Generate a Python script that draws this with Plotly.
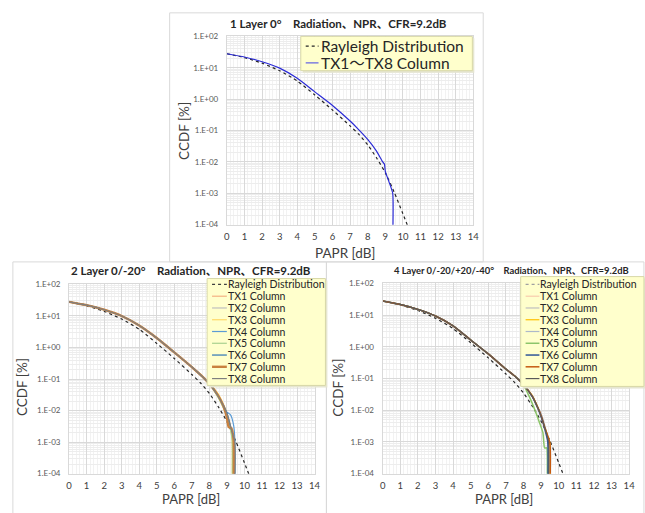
import plotly.graph_objects as go

W, H = 645, 513
FONT = "Lato, 'Noto Sans CJK JP', sans-serif"

# ---------------- data ----------------
papr_ticks = list(range(0, 15))
ccdf_tickvals = [1e-4, 1e-3, 1e-2, 1e-1, 1e0, 1e1, 1e2]
ccdf_ticktext = ["1.E-04", "1.E-03", "1.E-02", "1.E-01", "1.E+00", "1.E+01", "1.E+02"]

rayleigh_x = [0, 1, 2, 3, 4, 5, 6, 7, 7.5, 8, 8.5, 9, 9.5, 10, 10.4]
rayleigh_ccdf = [28, 21, 14, 8.0, 3.8, 1.35, 0.45, 0.14, 0.075, 0.035, 0.0135, 0.0045, 0.0011, 0.00022, 0.00006]

# panel 1: 1 layer, all columns identical
top_x = [0, 1, 2, 3, 4, 5, 6, 7, 7.5, 8, 8.5, 8.85, 8.95, 9.0, 9.2, 9.42, 9.42]
top_ccdf = [28, 22, 15.5, 9.7, 4.6, 1.7, 0.63, 0.2, 0.105, 0.052, 0.022, 0.0100, 0.0085, 0.005, 0.0024, 0.0010, 0.00003]

tx_names = ["TX1 Column", "TX2 Column", "TX3 Column", "TX4 Column",
            "TX5 Column", "TX6 Column", "TX7 Column", "TX8 Column"]

# panel 2: 2 layer
bl_head_x = [0, 1, 2, 3, 4, 5, 6, 7, 7.5, 8]
bl_head = [28, 22, 15.8, 10, 5.0, 2.0, 0.7, 0.24, 0.135, 0.071]
bl_tail_x = [
    [8.5, 8.8, 9.0, 9.2, 9.35, 9.35],
    [8.5, 8.8, 9.0, 9.2, 9.4, 9.4],
    [8.5, 8.8, 9.0, 9.2, 9.3, 9.3],
    [8.5, 8.8, 9.0, 9.2, 9.38, 9.45, 9.45],
    [8.5, 8.8, 9.0, 9.2, 9.3, 9.3],
    [8.5, 8.8, 9.0, 9.2, 9.42, 9.42],
    [8.5, 8.8, 9.0, 9.1, 9.25, 9.38, 9.38],
    [8.5, 8.8, 9.0, 9.2, 9.45, 9.45],
]
bl_tail = [
    [0.03, 0.0145, 0.0085, 0.0035, 0.0012, 0.00003],
    [0.029, 0.014, 0.008, 0.003, 0.0011, 0.00003],
    [0.034, 0.016, 0.0085, 0.003, 0.0013, 0.00003],
    [0.03, 0.015, 0.009, 0.0075, 0.0035, 0.0012, 0.00003],
    [0.026, 0.012, 0.0065, 0.0025, 0.0011, 0.00003],
    [0.029, 0.0145, 0.0082, 0.0033, 0.0011, 0.00003],
    [0.03, 0.014, 0.006, 0.003, 0.0028, 0.0012, 0.00003],
    [0.029, 0.0142, 0.008, 0.0032, 0.001, 0.00003],
]

# panel 3: 4 layer
br_head_x = [0, 1, 2, 3, 4, 5, 6, 7, 7.5, 8]
br_head = [28, 21.8, 15.2, 9.4, 4.6, 1.65, 0.6, 0.2, 0.12, 0.064]
br_tail_x = [
    [8.5, 8.8, 9.0, 9.2, 9.45, 9.45],
    [8.5, 8.8, 9.0, 9.2, 9.4, 9.4],
    [8.5, 8.8, 9.0, 9.2, 9.5, 9.5],
    [8.5, 8.8, 9.0, 9.2, 9.4, 9.4],
    [8.4, 8.7, 8.9, 9.1, 9.2, 9.32, 9.35, 9.35],
    [8.5, 8.8, 9.0, 9.2, 9.38, 9.38],
    [8.5, 8.8, 9.0, 9.2, 9.5, 9.5],
    [8.5, 8.8, 9.0, 9.2, 9.42, 9.42],
]
br_tail = [
    [0.028, 0.0125, 0.0065, 0.0028, 0.0010, 0.00003],
    [0.027, 0.012, 0.0075, 0.0035, 0.0011, 0.00003],
    [0.029, 0.013, 0.0068, 0.003, 0.0009, 0.00003],
    [0.028, 0.013, 0.0078, 0.0032, 0.001, 0.00003],
    [0.022, 0.0085, 0.0042, 0.002, 0.00065, 0.00065, 0.0004, 0.00003],
    [0.027, 0.012, 0.0062, 0.0027, 0.001, 0.00003],
    [0.028, 0.0128, 0.0068, 0.003, 0.0009, 0.00003],
    [0.0275, 0.0125, 0.0066, 0.0029, 0.001, 0.00003],
]

bl_colors = ["#F4B183", "#BFBFBF", "#FFD966", "#5B9BD5", "#A9D18E", "#2E75B6", "#C9813F", "#7F7F7F"]
bl_widths = [1.2, 1.2, 1.2, 1.2, 1.2, 1.2, 2.4, 1.2]
br_colors = ["#F8CBAD", "#BFBFBF", "#FFC000", "#ADB9CA", "#8CC56A", "#2F5597", "#C55A11", "#595959"]
br_widths = [1.2, 1.2, 1.2, 1.2, 1.5, 1.5, 1.5, 1.2]

minor_y = [m * 10 ** e for e in range(-4, 2) for m in range(2, 10)]

def fx(p):
    return p / W

def fy(p):
    return 1 - p / H

fig = go.Figure()

# ---------------- panels ----------------
panels = [
    dict(n="", l=227, r=477, t=32, b=224),
    dict(n="2", l=67, r=316, t=285, b=478),
    dict(n="3", l=385, r=635, t=284, b=478),
]

for p in panels:
    xa = dict(
        domain=[fx(p["l"]), fx(p["r"])], range=[0, 14], tickvals=papr_ticks,
        showgrid=True, gridcolor="#D9D9D9", gridwidth=1, zeroline=False,
        showline=True, linecolor="#D9D9D9", mirror=True, ticks="",
        tickfont=dict(family=FONT, size=9.5, color="#404040"),
        ticklabelstandoff=3,
        minor=dict(dtick=0.2, tick0=0, showgrid=True, gridcolor="#F2F2F2"),
        anchor="y" + p["n"], fixedrange=True,
    )
    ya = dict(
        domain=[fy(p["b"]), fy(p["t"])], type="log", range=[-4, 2],
        tickvals=ccdf_tickvals, ticktext=ccdf_ticktext,
        showgrid=True, gridcolor="#D9D9D9", gridwidth=1, zeroline=False,
        showline=True, linecolor="#D9D9D9", mirror=True, ticks="",
        tickfont=dict(family=FONT, size=8, color="#595959"),
        ticklabelstandoff=6,
        minor=dict(tickvals=minor_y, showgrid=True, gridcolor="#EDEDED"),
        anchor="x" + p["n"], fixedrange=True,
    )
    fig.update_layout(**{"xaxis" + p["n"]: xa, "yaxis" + p["n"]: ya})

ray_line = dict(color="#262626", width=1.2, dash="dot", shape="spline", smoothing=0.6)

# panel 1 traces
fig.add_trace(go.Scatter(x=rayleigh_x, y=rayleigh_ccdf, mode="lines", line=ray_line,
                         name="Rayleigh Distribution", xaxis="x", yaxis="y", showlegend=False))
fig.add_trace(go.Scatter(x=top_x, y=top_ccdf, mode="lines",
                         line=dict(color="#2B2BD6", width=1.2, shape="spline", smoothing=0.5),
                         name="TX1～TX8 Column", xaxis="x", yaxis="y", showlegend=False))

# panel 2 traces
fig.add_trace(go.Scatter(x=rayleigh_x, y=rayleigh_ccdf, mode="lines", line=ray_line,
                         name="Rayleigh Distribution", xaxis="x2", yaxis="y2", showlegend=False))
for i in range(8):
    fig.add_trace(go.Scatter(x=bl_head_x + bl_tail_x[i], y=bl_head + bl_tail[i], mode="lines",
                             line=dict(color=bl_colors[i], width=bl_widths[i], shape="spline", smoothing=0.5),
                             name=tx_names[i], xaxis="x2", yaxis="y2", showlegend=False))

# panel 3 traces
fig.add_trace(go.Scatter(x=rayleigh_x, y=rayleigh_ccdf, mode="lines", line=ray_line,
                         name="Rayleigh Distribution", xaxis="x3", yaxis="y3", showlegend=False))
for i in range(8):
    fig.add_trace(go.Scatter(x=br_head_x + br_tail_x[i], y=br_head + br_tail[i], mode="lines",
                             line=dict(color=br_colors[i], width=br_widths[i], shape="spline", smoothing=0.5),
                             name=tx_names[i], xaxis="x3", yaxis="y3", showlegend=False))

shapes = []
annotations = []

# chart-area boxes
for (l, t, r, b) in [(169, 8, 487, 262), (10, 262, 328, 520), (328, 262, 650, 520)]:
    shapes.append(dict(type="rect", xref="paper", yref="paper", x0=fx(l), x1=fx(r), y0=fy(b), y1=fy(t),
                       line=dict(color="#D9D9D9", width=1), fillcolor="rgba(0,0,0,0)", layer="below"))

def text(x, y, s, size, bold=False, anchor="center", angle=0, color="#262626", yanchor="middle"):
    annotations.append(dict(xref="paper", yref="paper", x=fx(x), y=fy(y), text=("<b>%s</b>" % s) if bold else s,
                            showarrow=False, xanchor=anchor, yanchor=yanchor, textangle=angle, borderpad=0,
                            font=dict(family=FONT, size=size, color=color)))

# titles
text(340, 19, "1 Layer 0°　Radiation、NPR、CFR=9.2dB", 11.5, bold=True)
text(191, 271, "2 Layer 0/-20°　Radiation、NPR、CFR=9.2dB", 11.5, bold=True)
text(516, 271, "4 Layer 0/-20/+20/-40°　Radiation、NPR、CFR=9.2dB", 9.4, bold=True)

# axis titles
text(347, 253, "PAPR [dB]", 13.5, color="#404040")
text(191, 513, "PAPR [dB]", 13, color="#404040", yanchor="bottom")
text(508, 513, "PAPR [dB]", 13, color="#404040", yanchor="bottom")
text(183, 128, "CCDF [%]", 13.5, angle=-90, color="#404040")
text(20, 390, "CCDF [%]", 13.5, angle=-90, color="#404040")
text(340, 390, "CCDF [%]", 13.5, angle=-90, color="#404040")

# legends (drawn manually for Excel-like compact spacing)
def legend(box, rows, x_line, x_text, names, colors, widths, dashes, size):
    l, t, r, b = box
    shapes.append(dict(type="rect", xref="paper", yref="paper", x0=fx(l + 2), x1=fx(r + 2), y0=fy(b + 2), y1=fy(t + 2),
                       line=dict(width=0), fillcolor="#E6E6D0", layer="above"))
    shapes.append(dict(type="rect", xref="paper", yref="paper", x0=fx(l), x1=fx(r), y0=fy(b), y1=fy(t),
                       line=dict(color="#D8D8A8", width=1), fillcolor="#FFFFCC", layer="above"))
    for yy, nm, c, w, d in zip(rows, names, colors, widths, dashes):
        shapes.append(dict(type="line", xref="paper", yref="paper", x0=fx(x_line[0]), x1=fx(x_line[1]),
                           y0=fy(yy), y1=fy(yy), line=dict(color=c, width=w, dash=d), layer="above"))
        text(x_text, yy, nm, size, anchor="left", color="#262626")

legend((302, 32, 476, 67), [42, 59], (307, 320), 321,
       ["Rayleigh Distribution", "TX1～TX8 Column"], ["#262626", "#7F7FE0"], [1.2, 1.5], ["dot", "solid"], 15.5)

rows9 = [285 + 12 * i for i in range(9)]
legend((207, 279, 327, 388), rows9, (212, 227), 227,
       ["Rayleigh Distribution"] + tx_names, ["#404040"] + bl_colors, [1.2] + bl_widths, ["dot"] + ["solid"] * 8, 10.5)
legend((525, 277, 650, 389), rows9, (530, 544), 544,
       ["Rayleigh Distribution"] + tx_names, ["#A0A0A0"] + br_colors, [1.2] + br_widths, ["dot"] + ["solid"] * 8, 10.5)

fig.update_layout(
    width=W, height=H, autosize=False,
    margin=dict(l=0, r=0, t=0, b=0),
    paper_bgcolor="white", plot_bgcolor="white",
    showlegend=False, shapes=shapes, annotations=annotations,
    font=dict(family=FONT),
)

fig.write_html("out.html", config={"displayModeBar": False},
               post_script="document.body.style.margin='0';document.body.style.overflow='hidden';")
